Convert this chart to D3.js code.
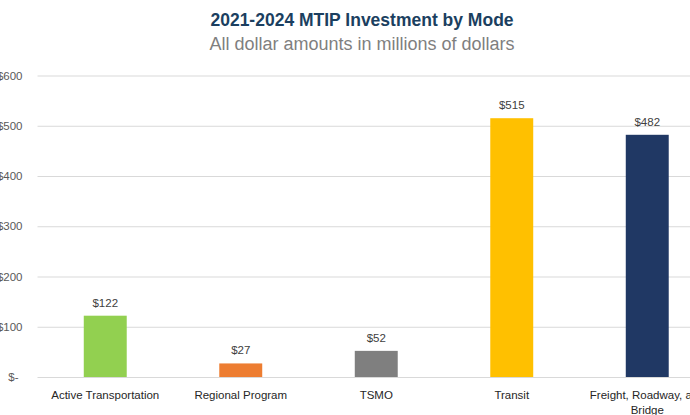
<!DOCTYPE html>
<html>
<head>
<meta charset="utf-8">
<script src="https://cdn.jsdelivr.net/npm/d3@7"></script>
<style>
  body { margin: 0; background: #fff; }
  svg { display: block; font-family: "Liberation Sans", Arial, sans-serif; }
</style>
</head>
<body>
<script>

var categories = ["Active Transportation", "Regional Program", "TSMO", "Transit", "Freight, Roadway, and Bridge"];
var values = [122, 27, 52, 515, 482];
var barColors = ["#92d050", "#ed7d31", "#7f7f7f", "#ffc000", "#203864"];
var yTicks = [0, 100, 200, 300, 400, 500, 600];

var width = 690, height = 415;

// plot runs past the right edge, like the original crop
var margins = { top: 75.5, left: 37.5, bottom: 38, right: -25 };
var plotW = width - margins.left - margins.right;
var plotH = height - margins.top - margins.bottom;

var svg = d3.select("body")
    .append("svg")
    .attr("width", width)
    .attr("height", height);

svg.append("text")
    .attr("x", 362)
    .attr("y", 26)
    .attr("text-anchor", "middle")
    .attr("font-size", 17.5)
    .attr("font-weight", "bold")
    .attr("fill", "#1b3f60")
    .text("2021-2024 MTIP Investment by Mode");

svg.append("text")
    .attr("x", 362)
    .attr("y", 50)
    .attr("text-anchor", "middle")
    .attr("font-size", 18)
    .attr("fill", "#7f7f7f")
    .text("All dollar amounts in millions of dollars");

var plot = svg.append("g")
    .attr("transform", "translate(" + margins.left + "," + margins.top + ")");

var xScale = d3.scaleBand()
    .domain(categories)
    .range([0, plotW])
    .paddingInner(0.683)
    .paddingOuter(0.3415);

var yScale = d3.scaleLinear()
    .domain([0, 600])
    .range([plotH, 0]);

var yAxis = d3.axisLeft(yScale)
    .tickValues(yTicks)
    .tickSize(-plotW)
    .tickPadding(15)
    .tickFormat(function(d) { return d === 0 ? "$-" : "$" + d; });

var yg = plot.append("g").call(yAxis);
yg.select(".domain").remove();
yg.selectAll(".tick line").attr("stroke", "#d9d9d9");
yg.selectAll(".tick text")
    .attr("font-size", 11.5)
    .attr("fill", "#595959")
    .attr("font-family", "Liberation Sans, Arial, sans-serif")
    .attr("dx", function(d) { return d === 0 ? -4 : 0; });

plot.selectAll("rect.bar")
    .data(values)
    .enter()
    .append("rect")
    .classed("bar", true)
    .attr("x", function(d, i) { return xScale(categories[i]); })
    .attr("y", function(d) { return yScale(d); })
    .attr("width", xScale.bandwidth())
    .attr("height", function(d) { return plotH - yScale(d); })
    .attr("fill", function(d, i) { return barColors[i]; });

plot.selectAll("text.val")
    .data(values)
    .enter()
    .append("text")
    .classed("val", true)
    .attr("x", function(d, i) { return xScale(categories[i]) + xScale.bandwidth() / 2; })
    .attr("y", function(d) { return yScale(d) - 9; })
    .attr("text-anchor", "middle")
    .attr("font-size", 11.5)
    .attr("fill", "#404040")
    .text(function(d) { return "$" + d; });

var xAxis = d3.axisBottom(xScale).tickSize(0).tickPadding(14);
var xg = plot.append("g")
    .attr("transform", "translate(0," + plotH + ")")
    .call(xAxis);
xg.select(".domain").remove();
xg.selectAll(".tick text")
    .attr("font-size", 11.5)
    .attr("fill", "#262626")
    .attr("font-family", "Liberation Sans, Arial, sans-serif")
    .call(wrap, 125);

function wrap(texts, maxW) {
  texts.each(function() {
    var text = d3.select(this),
        words = text.text().split(/\s+/),
        line = [],
        lineNo = 0,
        y = text.attr("y"),
        dy = parseFloat(text.attr("dy")),
        tspan = text.text(null).append("tspan").attr("x", 0).attr("y", y).attr("dy", dy + "em");
    words.forEach(function(w) {
      line.push(w);
      tspan.text(line.join(" "));
      if (tspan.node().getComputedTextLength() > maxW && line.length > 1) {
        line.pop();
        tspan.text(line.join(" "));
        line = [w];
        lineNo++;
        tspan = text.append("tspan").attr("x", 0).attr("y", y)
            .attr("dy", (lineNo * 1.3 + dy) + "em").text(w);
      }
    });
  });
}
</script>
</body>
</html>
